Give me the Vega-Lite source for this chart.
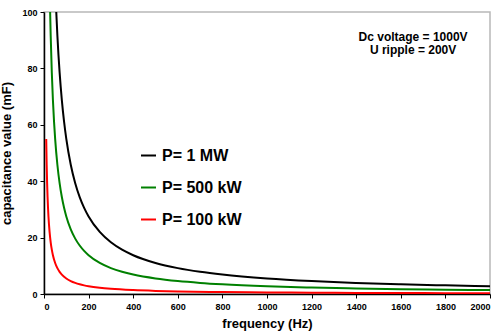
{
  "$schema": "https://vega.github.io/schema/vega-lite/v6.json",
  "width": 446,
  "height": 282,
  "autosize": {"type": "none"},
  "padding": {"left": 44, "top": 12, "right": 5, "bottom": 41},
  "background": "white",
  "config": {
    "font": "Liberation Sans",
    "view": {"stroke": "#b8b8b8", "strokeWidth": 1.5},
    "axis": {
      "grid": false,
      "domainColor": "#000000",
      "domainWidth": 1.5,
      "tickColor": "#000000",
      "tickWidth": 1,
      "tickSize": 4,
      "labelFont": "Liberation Sans",
      "labelFontWeight": "bold",
      "labelFontSize": 9,
      "labelColor": "#000000",
      "titleFont": "Liberation Sans",
      "titleFontWeight": "bold",
      "titleFontSize": 13,
      "titleColor": "#000000"
    },
    "legend": {
      "orient": "none",
      "legendX": 96,
      "legendY": 135,
      "title": null,
      "symbolType": "stroke",
      "symbolSize": 225,
      "symbolStrokeWidth": 2,
      "labelFont": "Liberation Sans",
      "labelFontWeight": "bold",
      "labelFontSize": 16,
      "labelColor": "#000000",
      "labelOffset": 5,
      "rowPadding": 15
    }
  },
  "datasets": {
    "curves": [
      {"series": "P= 1 MW", "f": 55, "c": 100},
      {"series": "P= 1 MW", "f": 60, "c": 91.67},
      {"series": "P= 1 MW", "f": 70, "c": 78.57},
      {"series": "P= 1 MW", "f": 80, "c": 68.75},
      {"series": "P= 1 MW", "f": 90, "c": 61.11},
      {"series": "P= 1 MW", "f": 100, "c": 55},
      {"series": "P= 1 MW", "f": 120, "c": 45.83},
      {"series": "P= 1 MW", "f": 140, "c": 39.29},
      {"series": "P= 1 MW", "f": 160, "c": 34.38},
      {"series": "P= 1 MW", "f": 180, "c": 30.56},
      {"series": "P= 1 MW", "f": 200, "c": 27.5},
      {"series": "P= 1 MW", "f": 250, "c": 22},
      {"series": "P= 1 MW", "f": 300, "c": 18.33},
      {"series": "P= 1 MW", "f": 350, "c": 15.71},
      {"series": "P= 1 MW", "f": 400, "c": 13.75},
      {"series": "P= 1 MW", "f": 500, "c": 11},
      {"series": "P= 1 MW", "f": 600, "c": 9.17},
      {"series": "P= 1 MW", "f": 700, "c": 7.86},
      {"series": "P= 1 MW", "f": 800, "c": 6.88},
      {"series": "P= 1 MW", "f": 1000, "c": 5.5},
      {"series": "P= 1 MW", "f": 1200, "c": 4.58},
      {"series": "P= 1 MW", "f": 1400, "c": 3.93},
      {"series": "P= 1 MW", "f": 1600, "c": 3.44},
      {"series": "P= 1 MW", "f": 1800, "c": 3.06},
      {"series": "P= 1 MW", "f": 2000, "c": 2.75},
      {"series": "P= 500 kW", "f": 27.5, "c": 100},
      {"series": "P= 500 kW", "f": 30, "c": 91.67},
      {"series": "P= 500 kW", "f": 35, "c": 78.57},
      {"series": "P= 500 kW", "f": 40, "c": 68.75},
      {"series": "P= 500 kW", "f": 45, "c": 61.11},
      {"series": "P= 500 kW", "f": 50, "c": 55},
      {"series": "P= 500 kW", "f": 60, "c": 45.83},
      {"series": "P= 500 kW", "f": 70, "c": 39.29},
      {"series": "P= 500 kW", "f": 80, "c": 34.38},
      {"series": "P= 500 kW", "f": 90, "c": 30.56},
      {"series": "P= 500 kW", "f": 100, "c": 27.5},
      {"series": "P= 500 kW", "f": 120, "c": 22.92},
      {"series": "P= 500 kW", "f": 140, "c": 19.64},
      {"series": "P= 500 kW", "f": 160, "c": 17.19},
      {"series": "P= 500 kW", "f": 180, "c": 15.28},
      {"series": "P= 500 kW", "f": 200, "c": 13.75},
      {"series": "P= 500 kW", "f": 250, "c": 11},
      {"series": "P= 500 kW", "f": 300, "c": 9.17},
      {"series": "P= 500 kW", "f": 350, "c": 7.86},
      {"series": "P= 500 kW", "f": 400, "c": 6.88},
      {"series": "P= 500 kW", "f": 500, "c": 5.5},
      {"series": "P= 500 kW", "f": 600, "c": 4.58},
      {"series": "P= 500 kW", "f": 700, "c": 3.93},
      {"series": "P= 500 kW", "f": 800, "c": 3.44},
      {"series": "P= 500 kW", "f": 1000, "c": 2.75},
      {"series": "P= 500 kW", "f": 1200, "c": 2.29},
      {"series": "P= 500 kW", "f": 1400, "c": 1.96},
      {"series": "P= 500 kW", "f": 1600, "c": 1.72},
      {"series": "P= 500 kW", "f": 1800, "c": 1.53},
      {"series": "P= 500 kW", "f": 2000, "c": 1.375},
      {"series": "P= 100 kW", "f": 10, "c": 55},
      {"series": "P= 100 kW", "f": 12, "c": 45.83},
      {"series": "P= 100 kW", "f": 14, "c": 39.29},
      {"series": "P= 100 kW", "f": 16, "c": 34.38},
      {"series": "P= 100 kW", "f": 18, "c": 30.56},
      {"series": "P= 100 kW", "f": 20, "c": 27.5},
      {"series": "P= 100 kW", "f": 25, "c": 22},
      {"series": "P= 100 kW", "f": 30, "c": 18.33},
      {"series": "P= 100 kW", "f": 35, "c": 15.71},
      {"series": "P= 100 kW", "f": 40, "c": 13.75},
      {"series": "P= 100 kW", "f": 50, "c": 11},
      {"series": "P= 100 kW", "f": 60, "c": 9.17},
      {"series": "P= 100 kW", "f": 70, "c": 7.86},
      {"series": "P= 100 kW", "f": 80, "c": 6.88},
      {"series": "P= 100 kW", "f": 100, "c": 5.5},
      {"series": "P= 100 kW", "f": 120, "c": 4.58},
      {"series": "P= 100 kW", "f": 140, "c": 3.93},
      {"series": "P= 100 kW", "f": 160, "c": 3.44},
      {"series": "P= 100 kW", "f": 180, "c": 3.06},
      {"series": "P= 100 kW", "f": 200, "c": 2.75},
      {"series": "P= 100 kW", "f": 250, "c": 2.2},
      {"series": "P= 100 kW", "f": 300, "c": 1.83},
      {"series": "P= 100 kW", "f": 400, "c": 1.375},
      {"series": "P= 100 kW", "f": 500, "c": 1.1},
      {"series": "P= 100 kW", "f": 600, "c": 0.92},
      {"series": "P= 100 kW", "f": 800, "c": 0.69},
      {"series": "P= 100 kW", "f": 1000, "c": 0.55},
      {"series": "P= 100 kW", "f": 1200, "c": 0.46},
      {"series": "P= 100 kW", "f": 1400, "c": 0.39},
      {"series": "P= 100 kW", "f": 1600, "c": 0.34},
      {"series": "P= 100 kW", "f": 1800, "c": 0.31},
      {"series": "P= 100 kW", "f": 2000, "c": 0.275}
    ],
    "notes": [
      {"f": 1655, "c": 91.3, "label": "Dc voltage = 1000V"},
      {"f": 1655, "c": 86.6, "label": "U ripple = 200V"}
    ]
  },
  "layer": [
    {
      "data": {"name": "curves"},
      "mark": {"type": "line", "strokeWidth": 2, "interpolate": "monotone", "clip": true},
      "encoding": {
        "x": {
          "field": "f", "type": "quantitative",
          "scale": {"domain": [0, 2000], "nice": false},
          "axis": {"values": [0, 200, 400, 600, 800, 1000, 1200, 1400, 1600, 1800, 2000], "format": "d", "title": "frequency (Hz)", "labelPadding": 4, "titlePadding": 6}
        },
        "y": {
          "field": "c", "type": "quantitative",
          "scale": {"domain": [0, 100], "nice": false},
          "axis": {"values": [0, 20, 40, 60, 80, 100], "title": "capacitance value (mF)", "labelPadding": 3, "titlePadding": 8}
        },
        "color": {
          "field": "series", "type": "nominal",
          "scale": {"domain": ["P= 1 MW", "P= 500 kW", "P= 100 kW"], "range": ["#000000", "#008000", "#ff0000"]},
          "sort": ["P= 1 MW", "P= 500 kW", "P= 100 kW"]
        }
      }
    },
    {
      "data": {"name": "notes"},
      "mark": {"type": "text", "font": "Liberation Sans", "fontWeight": "bold", "fontSize": 12, "color": "#000000", "align": "center", "baseline": "middle"},
      "encoding": {
        "x": {"field": "f", "type": "quantitative"},
        "y": {"field": "c", "type": "quantitative"},
        "text": {"field": "label"}
      }
    }
  ]
}
